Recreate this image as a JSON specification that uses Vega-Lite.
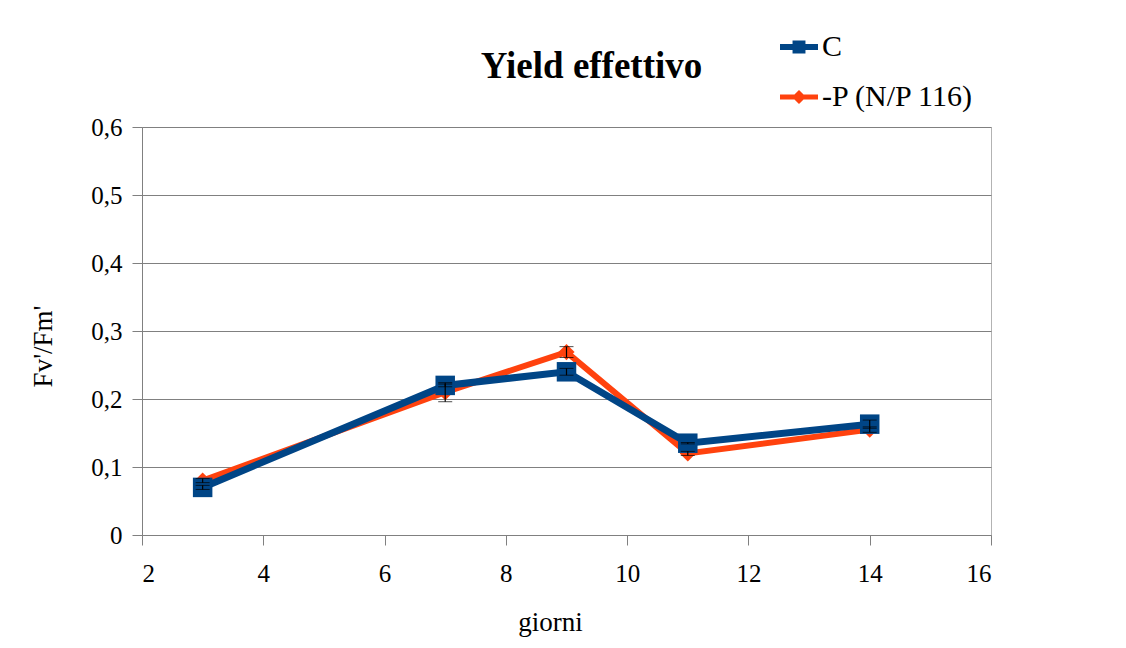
{
  "$schema": "https://vega.github.io/schema/vega-lite/v6.json",
  "autosize": {"type": "none"},
  "width": 849,
  "height": 408,
  "padding": {"left": 142, "top": 127, "right": 135, "bottom": 113},
  "background": "white",
  "config": {
    "font": "Liberation Serif",
    "view": {"stroke": "#b3b3b3", "strokeWidth": 1},
    "axis": {
      "labelFont": "Liberation Serif",
      "titleFont": "Liberation Serif",
      "labelFontSize": 25,
      "titleFontSize": 27,
      "titleFontWeight": "normal",
      "labelColor": "black",
      "titleColor": "black",
      "domainColor": "#808080",
      "tickColor": "#808080",
      "gridColor": "#808080",
      "tickSize": 10
    },
    "legend": {
      "padding": 0,
      "labelFont": "Liberation Serif",
      "labelFontSize": 30,
      "labelColor": "black"
    }
  },
  "title": {
    "text": "Yield effettivo",
    "font": "Liberation Serif",
    "fontSize": 37,
    "fontWeight": "bold",
    "color": "black",
    "anchor": "middle",
    "dx": 25,
    "dy": 58,
    "offset": 0
  },
  "data": {
    "values": [
      {"serie": "C", "giorni": 3, "y": 0.070, "err": 0.003},
      {"serie": "C", "giorni": 7, "y": 0.220, "err": 0.002},
      {"serie": "C", "giorni": 9, "y": 0.240, "err": 0.005},
      {"serie": "C", "giorni": 11, "y": 0.135, "err": 0.001},
      {"serie": "C", "giorni": 14, "y": 0.163, "err": 0.006},
      {"serie": "-P (N/P 116)", "giorni": 3, "y": 0.080, "err": 0.003},
      {"serie": "-P (N/P 116)", "giorni": 7, "y": 0.210, "err": 0.014},
      {"serie": "-P (N/P 116)", "giorni": 9, "y": 0.269, "err": 0.008},
      {"serie": "-P (N/P 116)", "giorni": 11, "y": 0.120, "err": 0.003},
      {"serie": "-P (N/P 116)", "giorni": 14, "y": 0.155, "err": 0.004}
    ]
  },
  "encoding": {
    "x": {
      "field": "giorni",
      "type": "quantitative",
      "scale": {"domain": [2, 16], "nice": false, "zero": false},
      "axis": {
        "values": [2, 4, 6, 8, 10, 12, 14, 16],
        "grid": false,
        "title": "giorni",
        "labelPadding": 16,
        "titleX": 408,
        "titleY": 95,
        "titleBaseline": "alphabetic",
        "titleAlign": "center"
      }
    },
    "y": {
      "field": "y",
      "type": "quantitative",
      "scale": {"domain": [0, 0.6], "nice": false},
      "axis": {
        "values": [0, 0.1, 0.2, 0.3, 0.4, 0.5, 0.6],
        "labelExpr": "datum.value == 0 ? '0' : replace(datum.label, '.', ',')",
        "title": "Fv'/Fm'",
        "labelPadding": 10,
        "titleX": -99,
        "titleY": 219,
        "titleAngle": 270,
        "titleAlign": "center",
        "titleBaseline": "middle"
      }
    }
  },
  "layer": [
    {
      "mark": {"type": "line", "strokeWidth": 6, "color": "#ff420e"},
      "transform": [{"filter": "datum.serie === '-P (N/P 116)'"}]
    },
    {
      "mark": {"type": "point", "shape": "diamond", "filled": true, "opacity": 1, "size": 260, "color": "#ff420e"},
      "transform": [{"filter": "datum.serie === '-P (N/P 116)'"}]
    },
    {
      "mark": {"type": "line", "strokeWidth": 7, "color": "#004586"},
      "transform": [{"filter": "datum.serie === 'C'"}]
    },
    {
      "mark": {"type": "point", "shape": "square", "filled": true, "opacity": 1, "size": 380, "color": "#004586"},
      "transform": [{"filter": "datum.serie === 'C'"}]
    },
    {
      "mark": {"type": "errorbar", "ticks": {"size": 14, "color": "black"}, "rule": {"color": "black", "strokeWidth": 1.2}},
      "encoding": {
        "yError": {"field": "err"}
      }
    },
    {
      "mark": {"type": "point", "filled": true, "opacity": 1},
      "transform": [{"filter": "false"}],
      "encoding": {
        "color": {
          "field": "serie",
          "type": "nominal",
          "scale": {"domain": ["C", "-P (N/P 116)"], "range": ["#004586", "#ff420e"]},
          "legend": {
            "title": null,
            "orient": "none",
            "legendX": 638,
            "legendY": -99,
            "symbolSize": 1444,
            "symbolStrokeWidth": 0,
            "symbolOpacity": 1,
            "rowPadding": 16,
            "labelOffset": 4,
            "labelLimit": 400
          }
        },
        "shape": {
          "field": "serie",
          "type": "nominal",
          "scale": {
            "domain": ["C", "-P (N/P 116)"],
            "range": [
              "M-1,-0.16H1V0.16H-1Z M-0.34,-0.34H0.34V0.34H-0.34Z",
              "M-1,-0.13H1V0.13H-1Z M0,-0.37L0.37,0L0,0.37L-0.37,0Z"
            ]
          },
          "legend": {
            "title": null,
            "orient": "none",
            "legendX": 638,
            "legendY": -99,
            "symbolSize": 1444,
            "symbolStrokeWidth": 0,
            "symbolOpacity": 1,
            "rowPadding": 16,
            "labelOffset": 4,
            "labelLimit": 400
          }
        }
      }
    }
  ]
}
